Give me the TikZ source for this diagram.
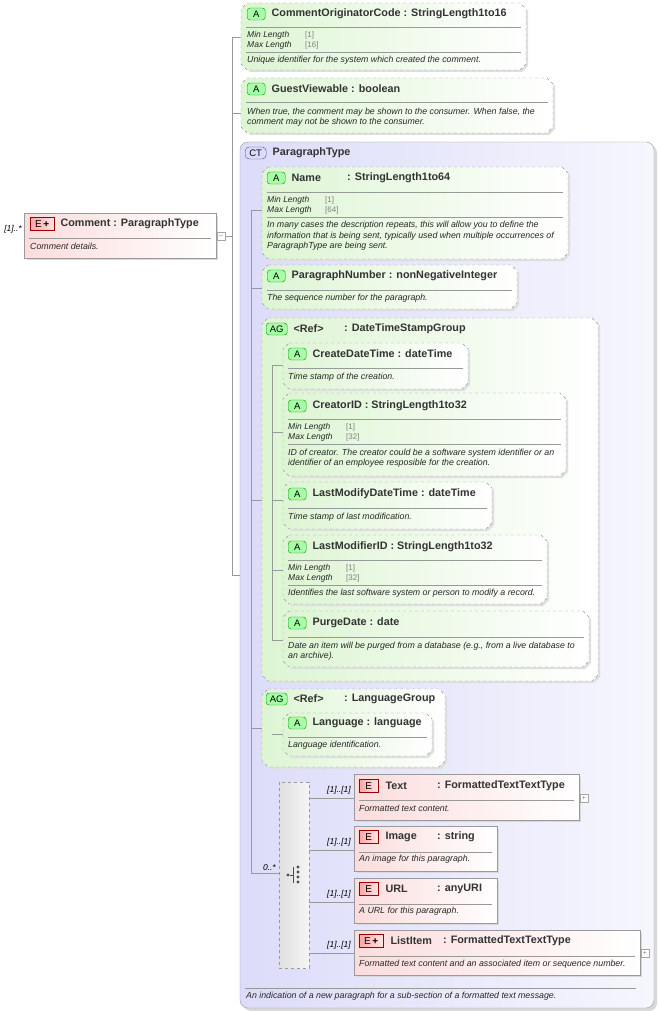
\documentclass[tikz,border=0pt]{standalone}
\usepackage{fontspec}
\setmainfont{Liberation Sans}
\usetikzlibrary{positioning,calc}
\definecolor{attgreen}{HTML}{DDF5D3}
\definecolor{elpink}{HTML}{FCDCDC}
\definecolor{ctblue}{HTML}{DCDCFA}
\definecolor{ctbadge}{HTML}{8080E0}
\definecolor{linegray}{HTML}{9A9A9A}
\tikzset{
  attr/.style={draw=linegray,dashed,left color=attgreen,right color=white},
  elem/.style={draw=linegray,left color=elpink,right color=white},
  sep/.style={draw=gray!80,line width=0.5pt},
  conn/.style={draw=gray!80,line width=0.5pt},
  ttl/.style={anchor=west,inner sep=0pt,font=\fontsize{10.8}{12}\selectfont\bfseries,text=black!80},
  dsc/.style={anchor=west,inner sep=0pt,font=\fontsize{8.8}{10.5}\selectfont\itshape,text=black!85,align=left},
  fct/.style={anchor=west,inner sep=0pt,font=\fontsize{8.5}{9}\selectfont\itshape,text=black!85},
  fcv/.style={anchor=west,inner sep=0pt,font=\fontsize{8}{9}\selectfont,text=gray},
  mult/.style={anchor=east,inner sep=0pt,font=\fontsize{8.5}{9}\selectfont\itshape},
  badge/.style={draw=#1!60!black,fill=#1!35,rounded corners=3pt,minimum width=18pt,minimum height=12pt,inner sep=0pt,font=\fontsize{9.5}{10}\selectfont,anchor=west},
  ebadge/.style={draw=red!60!black,left color=red!35,right color=red!10,minimum width=24pt,minimum height=13pt,inner sep=0pt,font=\fontsize{10}{10}\selectfont,anchor=west},
  pm/.style={draw=gray!70,fill=white,minimum size=8pt,inner sep=0pt,font=\fontsize{7}{7}\selectfont,text=gray}
}
% chamfered attribute/group box: name x1 y1 x2 y2
\newcommand\attbox[5]{%
  \fill[gray!25] ({#2+8},{#3+2}) -- ({#4-4},{#3+2}) -- ({#4+2},{#3+8}) -- ({#4+2},{#5-4}) -- ({#4-4},{#5+2}) -- ({#2+8},{#5+2}) -- cycle;
  \draw[attr] ({#2+6},#3) -- ({#4-6},#3) -- (#4,{#3+6}) -- (#4,{#5-6}) -- ({#4-6},#5) -- ({#2+6},#5) -- (#2,{#5-6}) -- (#2,{#3+6}) -- cycle;
  \coordinate (#1) at (#2,#3);}
% element box: name x1 y1 x2 y2
\newcommand\elbox[5]{%
  \fill[gray!30] ({#2+3},{#3+3}) rectangle ({#4+2},{#5+2});
  \draw[elem] (#2,#3) rectangle (#4,#5);
  \coordinate (#1) at (#2,#3);}
\newcommand\hsep[3]{\draw[sep] ({#1+5},#3) -- ({#2-5},#3);}
\begin{document}
\begin{tikzpicture}[x=1pt,y=-1pt]
\useasboundingbox (0,0) rectangle (658,1011);
% connectors of Comment
\draw[conn] (225,236) -- (232,236);
\draw[conn] (232,37) -- (232,575);
\foreach \y in {37,113,575} \draw[conn] (232,\y) -- (241,\y);
% CommentOriginatorCode
\attbox{orig}{241}{3}{526}{70}
\node[badge=green] (orig-b) at (247,14) {A};
\node[ttl,right=6pt of orig-b] (orig-t) {CommentOriginatorCode : StringLength1to16};
\hsep{241}{526}{27}
\node[fct] at (247,35) {Min Length}; \node[fcv] at (305,35) {[1]};
\node[fct] at (247,45) {Max Length}; \node[fcv] at (305,45) {[16]};
\hsep{241}{526}{52}
\node[dsc] at (247,60) {Unique identifier for the system which created the comment.};
% GuestViewable
\attbox{guest}{241}{78}{553}{133}
\node[badge=green] (guest-b) at (247,89) {A};
\node[ttl,right=6pt of guest-b] {GuestViewable : boolean};
\hsep{241}{553}{102}
\node[dsc] at (247,117) {When true, the comment may be shown to the consumer. When false, the\\comment may not be shown to the consumer.};
% Comment element
\elbox{comment}{24}{213}{216}{258}
\node[ebadge] (comment-b) at (30,224) {E\,\textbf{+}};
\node[ttl,right=6pt of comment-b] {Comment : ParagraphType};
\hsep{24}{216}{238}
\node[dsc] at (30,246) {Comment details.};
\node[mult] at (22,229) {[1]..*};
\node[pm] (comment-m) at (221,236) {--};
% ParagraphType
\fill[gray!30,rounded corners=8pt] (243,145) rectangle (657,1011);
\draw[draw=linegray,rounded corners=8pt,left color=ctblue,right color=ctblue!25] (240,142) rectangle (654,1008);
\node[draw=ctbadge!60!black,fill=ctblue,rounded corners=4pt,minimum width=21pt,minimum height=12pt,inner sep=0pt,font=\fontsize{9.5}{10}\selectfont,anchor=west] (pt-b) at (245,153) {CT};
\node[ttl,right=6pt of pt-b] {ParagraphType};
\draw[sep] (245,988) -- (636,988);
\node[dsc] at (246,996) {An indication of a new paragraph for a sub-section of a formatted text message.};
% inner connectors
\draw[conn] (251,210) -- (251,873);
\foreach \y in {210,288,500,728} \draw[conn] (251,\y) -- (262,\y);
% Name
\attbox{name}{262}{167}{568}{259}
\node[badge=green] (name-b) at (267,178) {A};
\node[ttl,right=6pt of name-b] {Name};
\node[ttl] at (347,178) {: StringLength1to64};
\hsep{262}{568}{192}
\node[fct] at (267,200) {Min Length}; \node[fcv] at (325,200) {[1]};
\node[fct] at (267,210) {Max Length}; \node[fcv] at (325,210) {[64]};
\hsep{262}{568}{217}
\node[dsc] at (267,236) {In many cases the description repeats, this will allow you to define the\\information that is being sent, typically used when multiple occurrences of\\ParagraphType are being sent.};
% ParagraphNumber
\attbox{pnum}{262}{265}{517}{309}
\node[badge=green] (pnum-b) at (267,276) {A};
\node[ttl,right=6pt of pnum-b] {ParagraphNumber : nonNegativeInteger};
\hsep{262}{517}{290}
\node[dsc] at (267,298) {The sequence number for the paragraph.};
% DateTimeStampGroup
\attbox{dts}{262}{318}{598}{681}
\node[badge=green,minimum width=21pt] (dts-b) at (266,329) {AG};
\node[ttl,right=6pt of dts-b] {<Ref>};
\node[ttl] at (344,329) {: DateTimeStampGroup};
\draw[conn] (272,365) -- (272,640);
\foreach \y in {365,432,500,570,640} \draw[conn] (272,\y) -- (283,\y);
\attbox{cdt}{283}{343}{468}{389}
\node[badge=green] (cdt-b) at (288,354) {A};
\node[ttl,right=6pt of cdt-b] {CreateDateTime : dateTime};
\hsep{283}{468}{368}
\node[dsc] at (288,377) {Time stamp of the creation.};
\attbox{cid}{283}{393}{566}{476}
\node[badge=green] (cid-b) at (288,406) {A};
\node[ttl,right=6pt of cid-b] {CreatorID : StringLength1to32};
\hsep{283}{566}{419}
\node[fct] at (288,427) {Min Length}; \node[fcv] at (346,427) {[1]};
\node[fct] at (288,437) {Max Length}; \node[fcv] at (346,437) {[32]};
\hsep{283}{566}{444}
\node[dsc] at (288,458) {ID of creator. The creator could be a software system identifier or an\\identifier of an employee resposible for the creation.};
\attbox{lmdt}{283}{482}{492}{529}
\node[badge=green] (lmdt-b) at (288,494) {A};
\node[ttl,right=6pt of lmdt-b] {LastModifyDateTime : dateTime};
\hsep{283}{492}{508}
\node[dsc] at (288,517) {Time stamp of last modification.};
\attbox{lmid}{283}{535}{547}{604}
\node[badge=green] (lmid-b) at (288,547) {A};
\node[ttl,right=6pt of lmid-b] {LastModifierID : StringLength1to32};
\hsep{283}{547}{560}
\node[fct] at (288,568) {Min Length}; \node[fcv] at (346,568) {[1]};
\node[fct] at (288,578) {Max Length}; \node[fcv] at (346,578) {[32]};
\hsep{283}{547}{585}
\node[dsc] at (288,593) {Identifies the last software system or person to modify a record.};
\attbox{purge}{283}{611}{589}{667}
\node[badge=green] (purge-b) at (288,623) {A};
\node[ttl,right=6pt of purge-b] {PurgeDate : date};
\hsep{283}{589}{637}
\node[dsc] at (288,651) {Date an item will be purged from a database (e.g., from a live database to\\an archive).};
% LanguageGroup
\attbox{lang}{262}{689}{445}{767}
\node[badge=green,minimum width=21pt] (lang-b) at (266,699) {AG};
\node[ttl,right=6pt of lang-b] {<Ref>};
\node[ttl] at (344,699) {: LanguageGroup};
\draw[conn] (272,734) -- (283,734);
\attbox{language}{283}{713}{432}{756}
\node[badge=green] (language-b) at (288,723) {A};
\node[ttl,right=6pt of language-b] {Language : language};
\hsep{283}{432}{737}
\node[dsc] at (288,745) {Language identification.};
% choice
\draw[conn] (251,873) -- (279,873);
\node[mult] at (276,868) {0..*};
\draw[draw=linegray,dashed,left color=gray!25,right color=gray!8] (279,782) rectangle (309,968);
\node[fill=black!70,circle,inner sep=1.2pt] (ch-d) at (288,875) {};
\draw[black!70] (ch-d) -- (293,875) (293,867) -- (293,883);
\foreach \y in {867,872,877,882} \fill[black!70] (298,\y) circle (1.6pt);
\foreach \y in {798,850,902,953} {
  \draw[conn] (309,\y) -- (354,\y);
  \node[mult] at (351,{\y-8}) {[1]..[1]};
}
\elbox{text}{354}{774}{579}{820}
\node[ebadge,minimum width=19pt] (text-b) at (359,786) {E};
\node[ttl,right=7pt of text-b] {Text};
\node[ttl] at (437,786) {: FormattedTextTextType};
\hsep{354}{579}{800}
\node[dsc] at (359,808) {Formatted text content.};
\node[pm] at (584,798) {+};
\elbox{image}{354}{826}{497}{871}
\node[ebadge,minimum width=19pt] (image-b) at (359,837) {E};
\node[ttl,right=7pt of image-b] {Image};
\node[ttl] at (437,837) {: string};
\hsep{354}{497}{852}
\node[dsc] at (359,859) {An image for this paragraph.};
\elbox{url}{354}{878}{497}{923}
\node[ebadge,minimum width=19pt] (url-b) at (359,889) {E};
\node[ttl,right=7pt of url-b] {URL};
\node[ttl] at (437,889) {: anyURI};
\hsep{354}{497}{904}
\node[dsc] at (359,911) {A URL for this paragraph.};
\elbox{list}{354}{930}{640}{975}
\node[ebadge] (list-b) at (359,941) {E\,\textbf{+}};
\node[ttl,right=7pt of list-b] {ListItem};
\node[ttl] at (443,941) {: FormattedTextTextType};
\hsep{354}{640}{956}
\node[dsc] at (359,964) {Formatted text content and an associated item or sequence number.};
\node[pm] at (645,953) {+};
\end{tikzpicture}
\end{document}
